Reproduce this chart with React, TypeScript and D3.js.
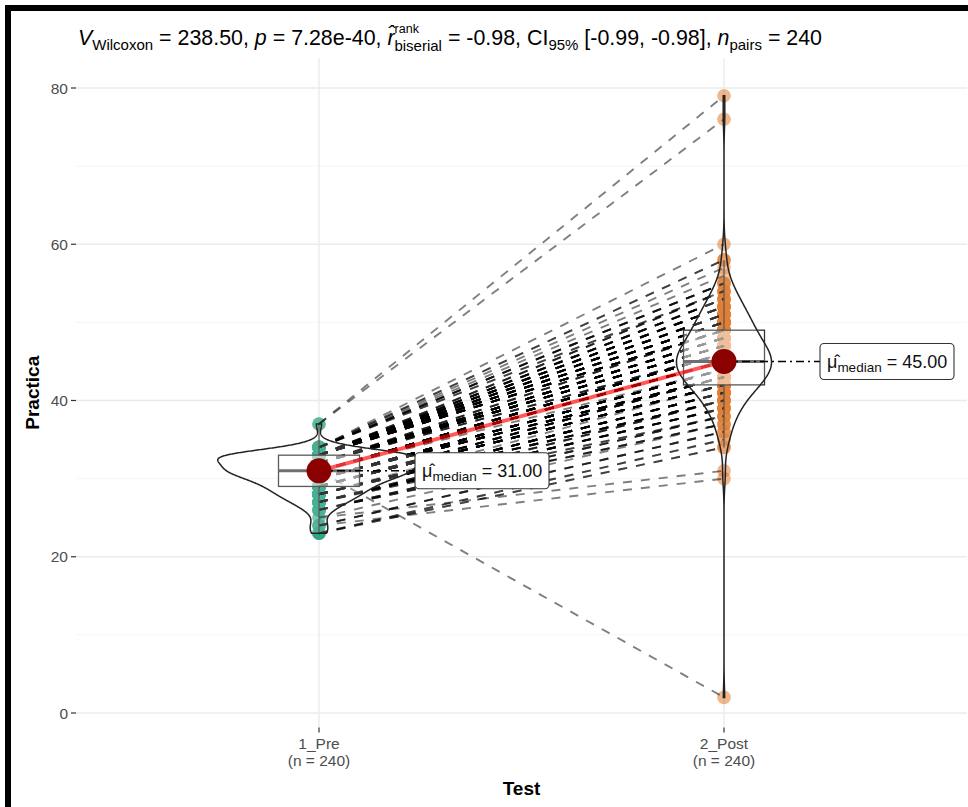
import React from "react";
import * as d3 from "d3";

// ---------------- data ----------------
const categories = ["1_Pre", "2_Post"];
const categoryCounts = ["(n = 240)", "(n = 240)"];

const preValues = [23, 24, 25, 26, 27, 28, 29, 30, 31, 32, 33, 34, 37];
const preCounts = [4, 4, 2, 6, 12, 18, 22, 30, 41, 38, 50, 11, 2];

const postValues = [2, 30, 31, 34, 35, 36, 37, 38, 39, 40, 41, 42, 43, 44, 45, 46, 47, 48, 49, 50, 51, 52, 53, 54, 55, 56, 57, 58, 60, 76, 79];
const postCounts = [1, 1, 1, 2, 2, 3, 4, 5, 7, 9, 11, 16, 18, 20, 22, 20, 17, 15, 13, 12, 10, 9, 6, 5, 4, 1, 1, 2, 1, 1, 1];

// pairs (pre, post) that do not follow the rank order of the rest
const offRankPairs: [number, number][] = [[31, 2], [37, 79], [37, 76], [24, 30], [25, 31]];

const yMajorTicks = [0, 20, 40, 60, 80];
const yMinorTicks = [10, 30, 50, 70];

const statV = "238.50";
const statP = "7.28e-40";
const statR = "-0.98";
const statCI = "[-0.99, -0.98]";
const statN = "240";

const yTitle = "Practica";
const xTitle = "Test";

// ---------------- helpers ----------------
function expand(values: number[], counts: number[]) {
  const out: number[] = [];
  values.forEach((v, i) => {
    for (let k = 0; k < counts[i]; k++) out.push(v);
  });
  return out;
}

function removeOne(arr: number[], v: number) {
  const i = arr.indexOf(v);
  if (i >= 0) arr.splice(i, 1);
}

function bwNrd0(vals: number[]) {
  const s = d3.deviation(vals) as number;
  const sorted = vals.slice().sort((a, b) => a - b);
  const iqr = (d3.quantileSorted(sorted, 0.75) as number) - (d3.quantileSorted(sorted, 0.25) as number);
  const lo = Math.min(s, iqr / 1.34);
  return 0.9 * lo * Math.pow(vals.length, -0.2);
}

function kde(vals: number[], bw: number, n = 512) {
  const lo = d3.min(vals) as number;
  const hi = d3.max(vals) as number;
  const out: { v: number; d: number }[] = [];
  for (let i = 0; i < n; i++) {
    const g = lo + ((hi - lo) * i) / (n - 1);
    let s = 0;
    for (const v of vals) {
      const z = (g - v) / bw;
      s += Math.exp(-0.5 * z * z);
    }
    out.push({ v: g, d: s / (vals.length * bw * Math.sqrt(2 * Math.PI)) });
  }
  return out;
}

function boxStats(vals: number[]) {
  const s = vals.slice().sort((a, b) => a - b);
  const q1 = d3.quantileSorted(s, 0.25) as number;
  const q3 = d3.quantileSorted(s, 0.75) as number;
  const med = d3.quantileSorted(s, 0.5) as number;
  const iqr = q3 - q1;
  const lo = d3.min(s.filter((v) => v >= q1 - 1.5 * iqr)) as number;
  const hi = d3.max(s.filter((v) => v <= q3 + 1.5 * iqr)) as number;
  return { q1, q3, med, lo, hi };
}

// ---------------- component ----------------
export default function App() {
  const W = 968;
  const H = 807;
  const font = "'Liberation Sans', Arial, Helvetica, sans-serif";

  const x = d3.scalePoint<string>().domain(categories).range([76, 967]).padding(0.6);
  const step = x.step();
  const y = d3.scaleLinear().domain([0, 80]).range([713, 88]);
  const panelLeft = 76;
  const panelRight = 967;
  const panelTop = 58;
  const panelBottom = y(-1.85);

  const pre = expand(preValues, preCounts);
  const post = expand(postValues, postCounts);
  const groups = [pre, post];

  // pairing
  const preRest = pre.slice();
  const postRest = post.slice();
  offRankPairs.forEach(([a, b]) => {
    removeOne(preRest, a);
    removeOne(postRest, b);
  });
  preRest.sort((a, b) => a - b);
  postRest.sort((a, b) => a - b);
  const pairs: [number, number][] = preRest.map((v, i) => [v, postRest[i]] as [number, number]).concat(offRankPairs);

  // violins (scale = "area")
  const dens = groups.map((g) => kde(g, bwNrd0(g)));
  const maxD = d3.max(dens.flat(), (d) => d.d) as number;
  const violinHalf = (0.5 * step) / 2;

  const boxes = groups.map(boxStats);
  const boxHalf = (0.2 * step) / 2;
  const medians = groups.map((g) => d3.median(g) as number);

  const colors = ["#1B9E77", "#D95F02"];

  const labelOffset = 96;
  const labelW = 134;
  const labelH = 36;

  return (
    <svg width={W} height={H} style={{ position: "fixed", left: 0, top: 0, background: "#fff" }} fontFamily={font}>
      <rect x={0} y={0} width={W} height={H} fill="#fff" />
      {/* grid */}
      {yMinorTicks.map((t) => (
        <line key={"mi" + t} x1={panelLeft} x2={panelRight} y1={y(t)} y2={y(t)} stroke="#F2F2F2" strokeWidth={0.8} />
      ))}
      {yMajorTicks.map((t) => (
        <line key={"ma" + t} x1={panelLeft} x2={panelRight} y1={y(t)} y2={y(t)} stroke="#EBEBEB" strokeWidth={1.4} />
      ))}
      {categories.map((c) => (
        <line key={"vg" + c} x1={x(c)} x2={x(c)} y1={panelTop} y2={panelBottom} stroke="#EBEBEB" strokeWidth={1.4} />
      ))}

      {/* points */}
      {groups.map((g, gi) =>
        g.map((v, i) => (
          <circle key={"p" + gi + "-" + i} cx={x(categories[gi])} cy={y(v)} r={6.8} fill={colors[gi]} fillOpacity={0.45} />
        ))
      )}

      {/* paired paths */}
      {pairs.map(([a, b], i) => (
        <line
          key={"pp" + i}
          x1={x(categories[0])}
          y1={y(a)}
          x2={x(categories[1])}
          y2={y(b)}
          stroke="#000"
          strokeOpacity={0.5}
          strokeWidth={1.9}
          strokeDasharray="9 9"
        />
      ))}

      {/* boxplots */}
      {boxes.map((b, gi) => {
        const cx = x(categories[gi]) as number;
        return (
          <g key={"box" + gi}>
            <line x1={cx} x2={cx} y1={y(b.q3)} y2={y(b.hi)} stroke="#333" strokeWidth={1.3} />
            <line x1={cx} x2={cx} y1={y(b.q1)} y2={y(b.lo)} stroke="#333" strokeWidth={1.3} />
            <rect
              x={cx - boxHalf}
              y={y(b.q3)}
              width={2 * boxHalf}
              height={y(b.q1) - y(b.q3)}
              fill="#fff"
              fillOpacity={0.5}
              stroke="#333"
              strokeWidth={1.3}
            />
            <line x1={cx - boxHalf} x2={cx + boxHalf} y1={y(b.med)} y2={y(b.med)} stroke="#4a4a4a" strokeWidth={3} />
          </g>
        );
      })}

      {/* violins */}
      {dens.map((d, gi) => {
        const cx = x(categories[gi]) as number;
        const area = d3
          .area<{ v: number; d: number }>()
          .y((p) => y(p.v))
          .x0((p) => cx - (p.d / maxD) * violinHalf)
          .x1((p) => cx + (p.d / maxD) * violinHalf);
        return <path key={"v" + gi} d={area(d) as string} fill="#fff" fillOpacity={0.2} stroke="#222" strokeWidth={1.5} />;
      })}

      {/* centrality path */}
      <line
        x1={x(categories[0])}
        y1={y(medians[0])}
        x2={x(categories[1])}
        y2={y(medians[1])}
        stroke="red"
        strokeOpacity={0.65}
        strokeWidth={4}
      />

      {/* label connectors */}
      {medians.map((m, gi) => {
        const cx = x(categories[gi]) as number;
        return (
          <line
            key={"lc" + gi}
            x1={cx}
            x2={cx + labelOffset}
            y1={y(m)}
            y2={y(m)}
            stroke="#000"
            strokeWidth={1.6}
            strokeDasharray="8 4 2 4"
          />
        );
      })}

      {/* centrality points */}
      {medians.map((m, gi) => (
        <circle key={"cp" + gi} cx={x(categories[gi])} cy={y(m)} r={12.5} fill="darkred" />
      ))}

      {/* labels */}
      {medians.map((m, gi) => {
        const lx = (x(categories[gi]) as number) + labelOffset;
        const ly = y(m);
        return (
          <g key={"lab" + gi}>
            <rect x={lx} y={ly - labelH / 2} width={labelW} height={labelH} rx={4} fill="#fff" stroke="#333" strokeWidth={1.1} />
            <text x={lx + 7} y={ly + 6.5} fontSize={18} fill="#111" style={{ whiteSpace: "pre" }}>
              <tspan>{"\u03BC\u0302"}</tspan>
              <tspan fontSize={13.5} dy={4}>median</tspan>
              <tspan dy={-4}>{" = " + m.toFixed(2)}</tspan>
            </text>
          </g>
        );
      })}

      {/* axes ticks */}
      {yMajorTicks.map((t) => (
        <g key={"yt" + t}>
          <line x1={panelLeft - 5} x2={panelLeft} y1={y(t)} y2={y(t)} stroke="#333" strokeWidth={1.2} />
          <text x={panelLeft - 8} y={y(t) + 5.5} textAnchor="end" fontSize={15.5} fill="#4D4D4D">
            {t}
          </text>
        </g>
      ))}
      {categories.map((c, i) => (
        <g key={"xt" + c}>
          <line x1={x(c)} x2={x(c)} y1={panelBottom} y2={panelBottom + 5} stroke="#333" strokeWidth={1.2} />
          <text x={x(c)} y={panelBottom + 22} textAnchor="middle" fontSize={15.5} fill="#4D4D4D">
            {c}
          </text>
          <text x={x(c)} y={panelBottom + 39} textAnchor="middle" fontSize={15.5} fill="#4D4D4D">
            {categoryCounts[i]}
          </text>
        </g>
      ))}

      {/* axis titles */}
      <text x={(panelLeft + panelRight) / 2} y={795} textAnchor="middle" fontSize={19} fontWeight="bold" fill="#000">
        {xTitle}
      </text>
      <text
        transform={`translate(39, ${(panelTop + panelBottom) / 2}) rotate(-90)`}
        textAnchor="middle"
        fontSize={19}
        fontWeight="bold"
        fill="#000"
      >
        {yTitle}
      </text>

      {/* subtitle */}
      <text x={78} y={45} fontSize={21.4} fill="#000" style={{ whiteSpace: "pre" }}>
        <tspan fontStyle="italic">V</tspan>
        <tspan fontSize={15} dy={5}>Wilcoxon</tspan>
        <tspan dy={-5}>{" = " + statV + ", "}</tspan>
        <tspan fontStyle="italic">p</tspan>
        <tspan>{" = " + statP + ", "}</tspan>
        <tspan fontStyle="italic">{"r\u0302"}</tspan>
        <tspan fontSize={12.5} dy={-12}>rank</tspan>
        <tspan fontSize={15} dx={-24.5} dy={18}>biserial</tspan>
        <tspan dy={-6}>{" = " + statR + ", CI"}</tspan>
        <tspan fontSize={15} dy={5}>95%</tspan>
        <tspan dy={-5}>{" " + statCI + ", "}</tspan>
        <tspan fontStyle="italic">n</tspan>
        <tspan fontSize={15} dy={5}>pairs</tspan>
        <tspan dy={-5}>{" = " + statN}</tspan>
      </text>

      {/* outer frame */}
      <rect x={8} y={8} width={W + 20} height={H + 20} fill="none" stroke="#000" strokeWidth={6} />
    </svg>
  );
}
